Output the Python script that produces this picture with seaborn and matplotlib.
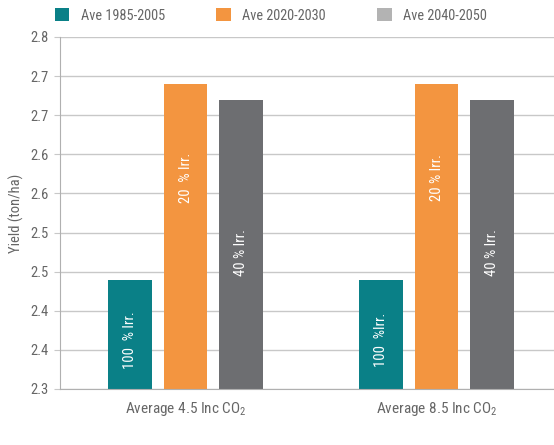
import numpy as np
import pandas as pd
import seaborn as sns
import matplotlib.pyplot as plt
from matplotlib.patches import Patch
from matplotlib import font_manager

# data
scenarios = ["Average 4.5 Inc CO$_2$", "Average 8.5 Inc CO$_2$"]
periods = ["Ave 1985-2005", "Ave 2020-2030", "Ave 2040-2050"]
yield_45 = [2.439, 2.690, 2.670]
yield_85 = [2.439, 2.690, 2.670]
bar_labels = [["100  % Irr.", "20  % Irr.", "40 % Irr."],
              ["100  %Irr.", "20 % Irr.", "40 % Irr."]]
label_y = [2.363, 2.570, 2.475]
y_ticks = [2.30, 2.35, 2.40, 2.45, 2.50, 2.55, 2.60, 2.65, 2.70, 2.75]

bar_colors = ["#0a8087", "#f39540", "#6d6e71"]
legend_colors = ["#0a8087", "#f39540", "#b3b3b3"]

df = pd.DataFrame({
    "scenario": np.repeat(scenarios, len(periods)),
    "period": periods * len(scenarios),
    "yield": yield_45 + yield_85,
})

sns.set_style("white")
installed = {f.name for f in font_manager.fontManager.ttflist}
family = next((f for f in ["Liberation Sans Narrow", "DejaVu Sans Condensed", "Roboto Condensed", "Roboto"]
               if f in installed), "DejaVu Sans")
plt.rcParams['font.family'] = [family, 'DejaVu Sans']
plt.rcParams['mathtext.default'] = 'regular'
text_col = "#666666"

fig = plt.figure(figsize=(5.54, 4.45), dpi=100)
ax = fig.add_axes([60 / 554, 1 - 389 / 445, 494 / 554, 352 / 445])

sns.barplot(data=df, x="scenario", y="yield", hue="period", palette=bar_colors,
            saturation=1, width=0.663, gap=0.21, dodge=True, legend=False, ax=ax)

ax.set_ylim(2.30, 2.75)
ax.set_xlim(-0.5, 1.468)
ax.set_yticks(y_ticks)
ax.set_yticklabels([f"{v + 1e-9:.1f}" for v in y_ticks])
ax.yaxis.grid(True, color="#c8c8c8", linewidth=1.0)
ax.set_axisbelow(True)
for s in ["top", "right"]:
    ax.spines[s].set_visible(False)
for s in ["left", "bottom"]:
    ax.spines[s].set_color("#b0b0b0")
ax.tick_params(axis="y", length=4, color="#c8c8c8", labelsize=10.5, labelcolor=text_col, pad=4, left=True)
ax.tick_params(axis="x", length=0, labelsize=11, labelcolor=text_col, pad=8)
ax.set_xlabel("")
ax.set_ylabel("Yield (ton/ha)", fontsize=10.5, color=text_col, labelpad=5)

# rotated white labels inside bars
for i, cont in enumerate(ax.containers):
    for j, bar in enumerate(cont):
        bar.set_edgecolor("none")
        cx = bar.get_x() + bar.get_width() / 2
        ax.text(cx, label_y[i], bar_labels[j][i], rotation=90, ha="center", va="center",
                color="white", fontsize=10.5)

handles = [Patch(facecolor=c, edgecolor="none") for c in legend_colors]
fig.legend(handles, periods, loc="upper left", bbox_to_anchor=(42 / 554, 1.01), ncol=3,
           frameon=False, fontsize=10.3, labelcolor=text_col, handlelength=1.0,
           handleheight=1.0, handletextpad=0.8, columnspacing=3.6)

fig.savefig("out.png", dpi=100)
